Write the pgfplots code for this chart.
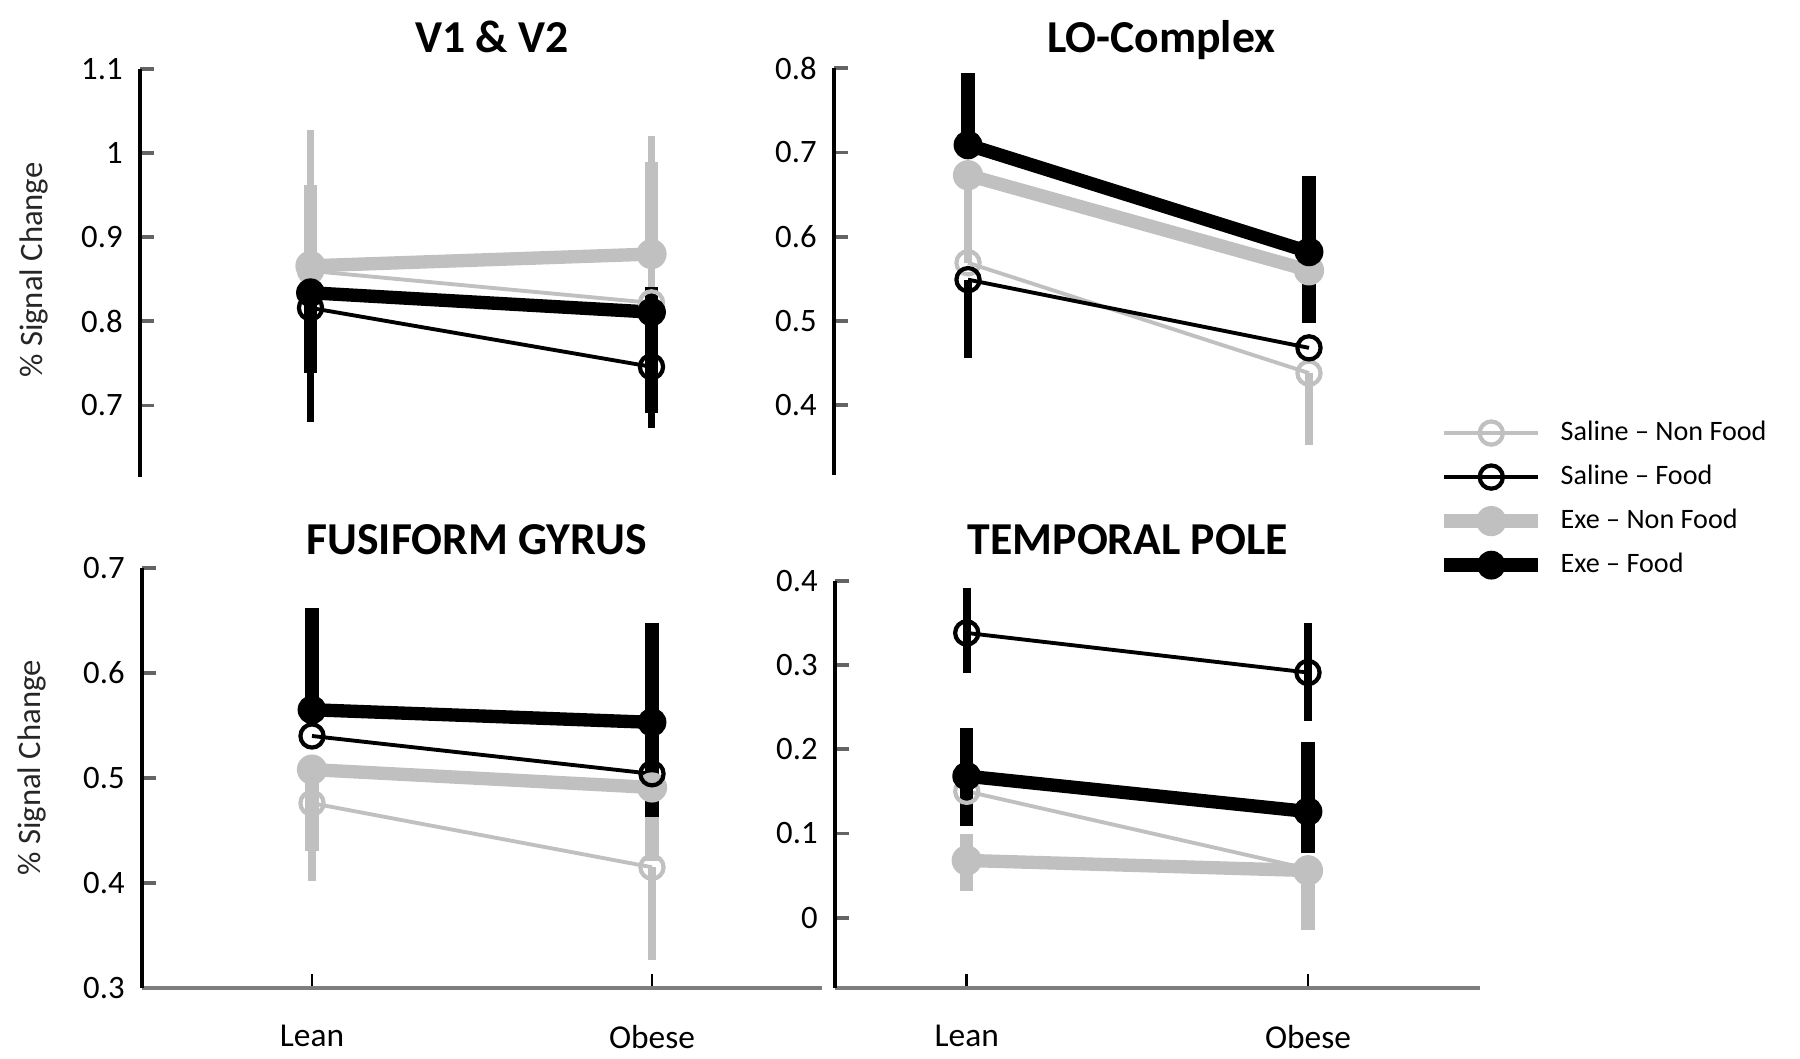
\documentclass[border=0pt]{standalone}
\usepackage{fontspec}
\setmainfont{Carlito}
\usepackage{pgfplots}
\usepackage{pgfplotstable}
\pgfplotsset{compat=1.18}

\definecolor{lg}{RGB}{192,192,192}
\definecolor{axg}{RGB}{125,125,125}
\definecolor{tkg}{RGB}{100,100,100}

% x: 1 = Lean, 2 = Obese; p/m = upper/lower error bar
\pgfplotstableread{
x snf   snfp  snfm  enf   enfp  enfm  sf    sfp  sfm   ef    efp   efm
1 0.860 0.168 0     0.866 0.096 0     0.816 0    0.136 0.834 0     0.095
2 0.822 0.198 0     0.880 0.110 0     0.746 0    0.073 0.811 0.030 0.120
}\tblVone
\pgfplotstableread{
x snf   snfp  snfm  enf   enfp  enfm  sf    sfp  sfm   ef    efp   efm
1 0.569 0.100 0     0.673 0     0     0.549 0    0.093 0.709 0.085 0
2 0.438 0     0.085 0.560 0     0     0.468 0    0     0.582 0.090 0.085
}\tblLO
\pgfplotstableread{
x snf   snfp  snfm  enf   enfp  enfm  sf    sfp  sfm   ef    efp   efm
1 0.476 0     0.074 0.508 0     0.078 0.540 0    0     0.565 0.097 0
2 0.415 0     0.088 0.491 0     0.070 0.504 0    0     0.553 0.095 0.090
}\tblFus
\pgfplotstableread{
x snf   snfp  snfm  enf   enfp  enfm  sf    sfp   sfm   ef    efp   efm
1 0.150 0     0     0.068 0.031 0.036 0.338 0.053 0.047 0.168 0.057 0.059
2 0.058 0     0     0.056 0     0.071 0.291 0.059 0.057 0.126 0.083 0.049
}\tblTP

\pgfplotsset{
  snfL/.style={color=lg, line width=1.1pt, mark=o, mark size=3.3pt, mark options={line width=1.2pt}},
  sfL/.style={color=black, line width=1.1pt, mark=o, mark size=3.3pt, mark options={line width=1.2pt}},
  enfL/.style={color=lg, line width=3.8pt, mark=*, mark size=4.1pt, mark options={line width=0.4pt}},
  efL/.style={color=black, line width=3.8pt, mark=*, mark size=3.9pt, mark options={line width=0.4pt}},
  thinerr/.style={error bars/y dir=both, error bars/y explicit, error bars/error mark=none,
    error bars/error bar style={line width=2.2pt}},
  thickerr/.style={error bars/y dir=both, error bars/y explicit, error bars/error mark=none,
    error bars/error bar style={line width=3.8pt}},
  panel/.style={scale only axis, axis y line*=left, tick align=inside,
    major tick length=0.14cm, clip=false,
    y axis line style={line width=0.9pt, black},
    ytick style={color=tkg, line width=1.1pt},
    yticklabel style={font=\fontsize{9.3}{10}\selectfont, xshift=-0.05cm},
    /pgf/number format/assume math mode=true,
    every axis title/.style={at={(0.5,1)}, anchor=base, font=\bfseries\fontsize{13}{15}\selectfont},
    ylabel style={font=\fontsize{9.3}{11}\selectfont, color=black!85},
  },
  toppanel/.style={panel, hide x axis, xtick=\empty},
  botpanel/.style={panel, axis x line*=bottom, xtick={1,2}, xticklabels={Lean,Obese},
    x axis line style={color=axg, line width=1.4pt},
    xtick style={color=black, line width=0.8pt},
    xticklabel style={font=\fontsize{9.5}{11}\selectfont, yshift=-0.25cm}},
}

\newcommand{\fourplots}[1]{%
  \addplot[snfL, thinerr, forget plot] table[x=x, y=snf, y error plus=snfp, y error minus=snfm] {#1};
  \addplot[enfL, thickerr, forget plot] table[x=x, y=enf, y error plus=enfp, y error minus=enfm] {#1};
  \addplot[sfL, thinerr, forget plot] table[x=x, y=sf, y error plus=sfp, y error minus=sfm] {#1};
  \addplot[efL, thickerr, forget plot] table[x=x, y=ef, y error plus=efp, y error minus=efm] {#1};
}

\begin{document}
\begin{tikzpicture}
\path[use as bounding box] (0,0) rectangle (18,10.59);

% V1 & V2
\begin{axis}[toppanel, at={(1.40cm,5.82cm)}, anchor=south west,
  width=6.82cm, height=4.08cm, xmin=0.5, xmax=2.5, ymin=0.615, ymax=1.1,
  ytick={0.7,0.8,0.9,1,1.1},
  title={V1 \& V2}, title style={at={(axis description cs:0.516,1)}, yshift=0.16cm},
  ylabel={\% Signal Change}, ylabel style={at={(axis description cs:-0.155,0.507)}, anchor=center}]
\fourplots{\tblVone}
\end{axis}

% LO-Complex
\begin{axis}[toppanel, at={(8.34cm,5.84cm)}, anchor=south west,
  width=6.455cm, height=4.067cm, xmin=0.607, xmax=2.5, ymin=0.317, ymax=0.8,
  ytick={0.4,0.5,0.6,0.7,0.8},
  title={LO-Complex}, title style={at={(axis description cs:0.507,1)}, yshift=0.16cm},
  legend style={at={(axis description cs:0.934,0.142)}, anchor=north west, draw=none, fill=none,
    font=\fontsize{8}{9.6}\selectfont, inner sep=0pt, row sep=0.138cm,
    nodes={inner sep=0.5pt, text height=6pt, text depth=1.6pt},
    /tikz/every odd column/.append style={column sep=0.14cm}},
  legend cell align=left,
  legend image code/.code={\draw[mark repeat=2, mark phase=2] plot coordinates {(0cm,0cm) (0.47cm,0cm) (0.94cm,0cm)};}]
\addlegendimage{snfL}\addlegendentry{Saline – Non Food}
\addlegendimage{sfL}\addlegendentry{Saline – Food}
\addlegendimage{enfL}\addlegendentry{Exe – Non Food}
\addlegendimage{efL}\addlegendentry{Exe – Food}
\fourplots{\tblLO}
\end{axis}

% Fusiform gyrus
\begin{axis}[botpanel, at={(1.42cm,0.71cm)}, anchor=south west,
  width=6.80cm, height=4.20cm, xmin=0.5, xmax=2.5, ymin=0.3, ymax=0.7,
  ytick={0.3,0.4,0.5,0.6,0.7},
  title={FUSIFORM GYRUS}, title style={at={(axis description cs:0.492,1)}, yshift=0.13cm},
  ylabel={\% Signal Change}, ylabel style={at={(axis description cs:-0.162,0.524)}, anchor=center}]
\fourplots{\tblFus}
\end{axis}

% Temporal pole
\begin{axis}[botpanel, at={(8.35cm,0.71cm)}, anchor=south west,
  width=6.45cm, height=4.073cm, xmin=0.614, xmax=2.504, ymin=-0.0834, ymax=0.4,
  ytick={0,0.1,0.2,0.3,0.4},
  title={TEMPORAL POLE}, title style={at={(axis description cs:0.454,1)}, yshift=0.26cm}]
\fourplots{\tblTP}
\end{axis}
\end{tikzpicture}
\end{document}
